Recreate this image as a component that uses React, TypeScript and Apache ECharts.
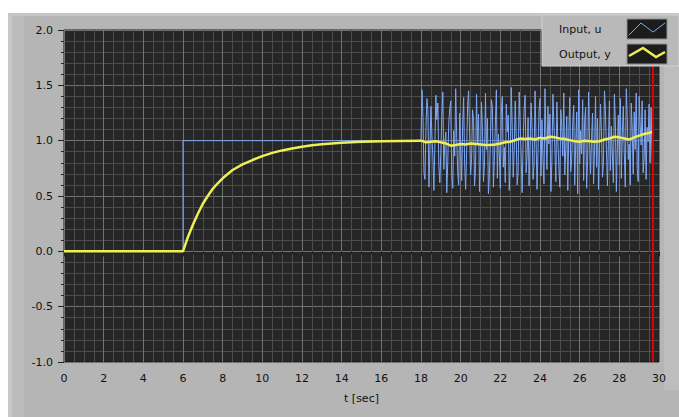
import React, { useEffect, useRef } from "react";
import * as echarts from "echarts";

// ---- data ----
const inputStepTimes = [0, 6, 6, 18];
const inputStepValues = [0, 0, 1, 1];

const noiseStart = 18;
const noiseDt = 0.05;
const inputNoise = [
  1.02, 1.46, 1.21, 0.71, 0.65, 1.12, 1.38, 1.27, 0.58, 0.92, 1.31, 1.05, 0.84, 0.55, 0.97, 1.41, 1.19, 1.34, 0.77, 0.62,
  0.89, 1.22, 1.44, 0.74, 0.97, 1.08, 0.53, 0.81, 1.16, 1.29, 1.36, 0.68, 0.57, 1.09, 0.86, 1.47, 1.03, 0.72, 0.6, 1.25,
  0.95, 0.64, 1.14, 1.39, 0.79, 0.56, 0.9, 1.32, 1.45, 1.07, 0.69, 0.83, 1.28, 1.18, 0.59, 0.75, 1.42, 0.98, 1.24, 0.54,
  0.87, 1.35, 1.1, 0.63, 0.78, 1.43, 0.92, 1.2, 0.52, 0.7, 1.01, 1.37, 1.3, 0.58, 0.82, 1.15, 1.46, 0.66, 1.06, 0.88,
  0.57, 1.26, 1.4, 0.76, 0.94, 0.62, 1.33, 1.08, 1.23, 0.55, 0.8, 1.48, 1.13, 0.67, 0.91, 1.36, 1.04, 0.6, 0.73, 1.44,
  1.17, 0.85, 0.53, 0.99, 1.29, 1.41, 0.71, 0.87, 1.21, 0.59, 0.95, 1.34, 1.11, 0.65, 0.78, 1.45, 1.02, 0.56, 0.9, 1.27,
  1.38, 0.68, 1.19, 0.83, 0.61, 1.47, 1.06, 0.74, 1.31, 0.97, 1.24, 0.54, 0.81, 1.42, 1.16, 0.93, 0.63, 1.35, 1.0, 0.77,
  0.58, 1.28, 1.12, 0.86, 1.43, 0.69, 0.92, 1.22, 0.55, 1.05, 1.39, 0.72, 0.84, 1.15, 1.32, 0.6, 0.96, 1.26, 0.52, 1.46,
  0.79, 1.09, 0.88, 1.37, 0.64, 1.18, 1.3, 0.57, 0.82, 1.44, 0.98, 0.7, 1.03, 1.25, 0.61, 0.9, 1.4, 0.76, 1.2, 0.56,
  0.94, 1.33, 1.08, 0.67, 0.8, 1.45, 1.27, 0.91, 0.59, 1.0, 1.36, 0.73, 1.13, 0.87, 0.62, 1.42, 1.17, 0.54, 0.95, 1.23,
  0.78, 1.38, 0.66, 1.06, 1.31, 0.89, 0.58, 1.47, 1.21, 0.83, 0.97, 0.6, 1.34, 1.1, 0.7, 1.26, 0.92, 1.43, 0.75, 0.63,
  1.4, 1.14, 0.96, 1.36, 0.71, 0.84, 1.28, 0.65, 1.12, 0.99, 1.33, 0.8, 1.3, 0.92, 0.55,
];

const outputTimes = [
  0, 6, 6.25, 6.5, 6.75, 7, 7.25, 7.5, 7.75, 8, 8.5, 9, 9.5, 10, 10.5, 11, 11.5, 12, 12.5, 13, 14, 15, 16, 17, 18,
  18.25, 18.5, 18.75, 19, 19.25, 19.5, 19.75, 20, 20.25, 20.5, 20.75, 21, 21.25, 21.5, 21.75, 22, 22.25, 22.5, 22.75,
  23, 23.25, 23.5, 23.75, 24, 24.25, 24.5, 24.75, 25, 25.25, 25.5, 25.75, 26, 26.25, 26.5, 26.75, 27, 27.25, 27.5,
  27.75, 28, 28.25, 28.5, 28.75, 29, 29.25, 29.5, 29.7,
];
const outputValues = [
  0, 0, 0.13, 0.24, 0.34, 0.43, 0.5, 0.565, 0.615, 0.66, 0.735, 0.785, 0.825, 0.86, 0.89, 0.912, 0.93, 0.945, 0.958, 0.968, 0.982, 0.99, 0.995, 0.998, 1.0,
  0.985, 0.99, 0.995, 0.985, 0.975, 0.955, 0.96, 0.97, 0.965, 0.975, 0.97, 0.965, 0.96, 0.96, 0.965, 0.975, 0.985, 0.99, 1.005,
  1.02, 1.015, 1.02, 1.01, 1.025, 1.02, 1.035, 1.03, 1.02, 1.015, 1.005, 0.995, 0.99, 1.0, 0.995, 0.99, 0.995, 1.01, 1.02,
  1.035, 1.03, 1.02, 1.01, 1.03, 1.045, 1.06, 1.07, 1.08,
];

const cursorTime = 29.7;
const xMin = 0, xMax = 30, xInterval = 2;
const yMin = -1, yMax = 2, yInterval = 0.5;
const legendNames = ["Input, u", "Output, y"];

const FONT = "DejaVu Sans";

export default function App() {
  const ref = useRef<HTMLDivElement>(null);
  useEffect(() => {
    if (!ref.current) return;
    const chart = echarts.init(ref.current, null, { renderer: "svg" });

    const inputData: number[][] = inputStepTimes.map((t, i) => [t, inputStepValues[i]]);
    inputNoise.forEach((v, i) => inputData.push([+(noiseStart + i * noiseDt).toFixed(2), v]));
    const outputData = outputTimes.map((t, i) => [t, outputValues[i]]);

    chart.setOption({
      animation: false,
      backgroundColor: "#ffffff",
      grid: {
        left: 64,
        right: 20,
        top: 30,
        bottom: 55,
        show: true,
        backgroundColor: "#262626",
        borderColor: "#151515",
        borderWidth: 1,
        z: 0,
      },
      xAxis: {
        type: "value",
        z: 1,
        min: xMin,
        max: xMax,
        interval: xInterval,
        name: "t [sec]",
        nameLocation: "middle",
        nameGap: 31,
        nameTextStyle: { color: "#111", fontFamily: FONT, fontSize: 11 },
        axisLine: { show: false },
        axisTick: { show: true, length: 5, lineStyle: { color: "#222" } },
        minorTick: { show: true, splitNumber: 4, length: 3, lineStyle: { color: "#222" } },
        axisLabel: { color: "#111", fontFamily: FONT, fontSize: 11, margin: 11 },
        splitLine: { show: true, lineStyle: { color: "#727272", width: 1 } },
        minorSplitLine: { show: true, lineStyle: { color: "#4d4d4d", width: 1 } },
      },
      yAxis: {
        type: "value",
        z: 1,
        min: yMin,
        max: yMax,
        interval: yInterval,
        axisLine: { show: false },
        axisTick: { show: true, length: 6, lineStyle: { color: "#222" } },
        minorTick: { show: true, splitNumber: 5, length: 3, lineStyle: { color: "#222" } },
        axisLabel: {
          color: "#111",
          fontFamily: FONT,
          fontSize: 11,
          margin: 11,
          formatter: (v: number) => v.toFixed(1),
        },
        splitLine: { show: true, lineStyle: { color: "#727272", width: 1 } },
        minorSplitLine: { show: true, lineStyle: { color: "#4d4d4d", width: 1 } },
      },
      series: [
        {
          name: legendNames[0],
          type: "line",
          data: inputData,
          showSymbol: false,
          lineStyle: { color: "#7fa8f4", width: 1 },
          z: 3,
          markLine: {
            silent: true,
            symbol: ["none", "none"],
            label: { show: false },
            lineStyle: { color: "#e00000", width: 2, type: "solid" },
            data: [{ xAxis: cursorTime }],
          },
        },
        {
          name: legendNames[1],
          type: "line",
          data: outputData,
          showSymbol: false,
          lineStyle: { color: "#efef55", width: 2.5 },
          z: 4,
        },
      ],
      graphic: [
        // panel background
        { type: "rect", z: -10, shape: { x: 9, y: 13, width: 670, height: 404 }, style: { fill: "#b5b5b5" } },
        { type: "rect", z: -9, shape: { x: 8, y: 13, width: 4, height: 404 }, style: { fill: "#c9c9c9" } },
        { type: "rect", z: -9, shape: { x: 12, y: 16, width: 12, height: 401 }, style: { fill: "#bcbcbc" } },
        { type: "rect", z: -9, shape: { x: 8, y: 13, width: 671, height: 3 }, style: { fill: "#c6c6c6" } },
        { type: "rect", z: -9, shape: { x: 664, y: 66, width: 15, height: 324 }, style: { fill: "#bdbdbd" } },
        // legend box
        {
          type: "group",
          z: 100,
          children: [
            { type: "rect", z: 100, shape: { x: 542, y: 15, width: 137, height: 51 }, style: { fill: "#b9b9b9", stroke: "#d2d2d2", lineWidth: 1 } },
            { type: "text", z: 101, x: 559, y: 29, style: { text: legendNames[0], fill: "#111", font: `11px "${FONT}"`, verticalAlign: "middle" } },
            { type: "text", z: 101, x: 559, y: 54, style: { text: legendNames[1], fill: "#111", font: `11px "${FONT}"`, verticalAlign: "middle" } },
            { type: "rect", z: 101, shape: { x: 627, y: 19, width: 40, height: 20 }, style: { fill: "#1c1c1c", stroke: "#8c8c8c", lineWidth: 1 } },
            { type: "rect", z: 101, shape: { x: 627, y: 44, width: 40, height: 20 }, style: { fill: "#1c1c1c", stroke: "#8c8c8c", lineWidth: 1 } },
            { type: "polyline", z: 102, shape: { points: [[629, 35], [641, 23], [653, 32], [665, 23]] }, style: { stroke: "#7fa8f4", lineWidth: 1, fill: "none" } },
            { type: "polyline", z: 102, shape: { points: [[629, 56], [643, 48], [656, 57], [665, 52]] }, style: { stroke: "#efef55", lineWidth: 2.5, fill: "none" } },
          ],
        },
      ],
    });
    return () => chart.dispose();
  }, []);
  return (
    <div
      ref={ref}
      style={{ position: "absolute", left: 0, top: 0, width: 679, height: 417 }}
    />
  );
}
